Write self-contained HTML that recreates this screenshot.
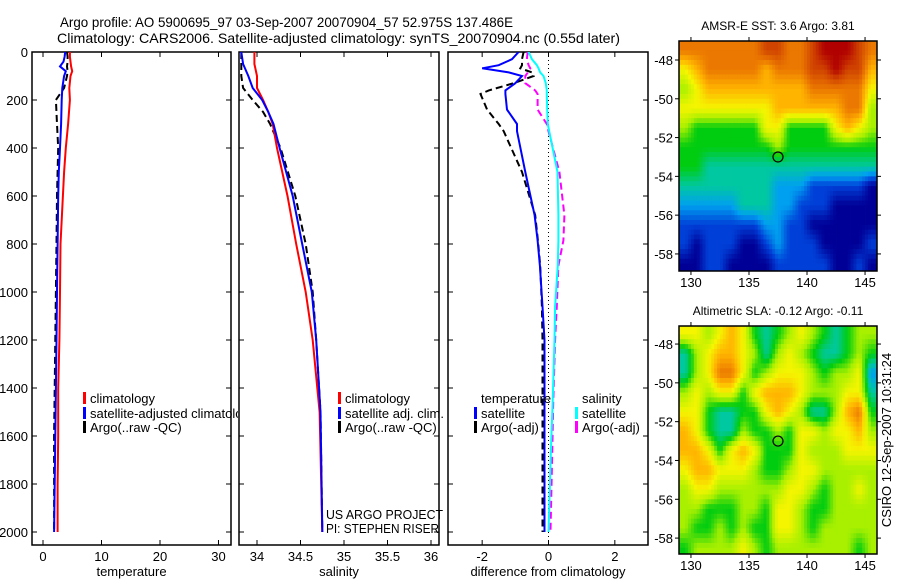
<!DOCTYPE html>
<html><head><meta charset="utf-8"><style>
html,body{margin:0;padding:0;background:#fff;}
svg{display:block;font-family:"Liberation Sans",sans-serif;}
</style></head><body>
<svg id="fig" width="900" height="580" viewBox="0 0 900 580" xmlns="http://www.w3.org/2000/svg">
<defs><clipPath id="c1"><rect x="32" y="52" width="206" height="494"/></clipPath>
<clipPath id="p1"><rect x="32" y="52" width="199" height="493"/></clipPath>
<clipPath id="p2"><rect x="239" y="52" width="200" height="493"/></clipPath>
<clipPath id="p3"><rect x="448" y="52" width="200" height="493"/></clipPath></defs>
<text x="60" y="27" font-size="14" textLength="453" lengthAdjust="spacingAndGlyphs">Argo profile: AO 5900695_97 03-Sep-2007 20070904_57 52.975S 137.486E</text>
<text x="57" y="43" font-size="14" textLength="563" lengthAdjust="spacingAndGlyphs">Climatology: CARS2006. Satellite-adjusted climatology: synTS_20070904.nc (0.55d later)</text>
<g id="g"></g>
</svg>
<script>
// ---- profile data ----
const tDepth = [0,20,40,60,80,100,150,200,300,400,500,600,800,1000,1200,1400,1600,1800,2000];
const tClim  = [4.6,4.6,4.7,4.8,5.0,4.7,4.5,4.6,4.3,3.9,3.6,3.4,3.0,2.9,2.8,2.6,2.6,2.5,2.5];
const tSat   = [3.8,3.7,3.5,2.9,3.9,3.6,3.3,3.2,3.1,2.9,2.7,2.6,2.5,2.4,2.3,2.2,2.1,2.0,1.9];
const tArgo  = [4.1,4.2,4.2,4.1,4.2,4.1,3.6,2.2,2.4,2.6,2.5,2.4,2.3,2.2,2.1,2.0,1.9,1.9,1.9];
const sDepth = [0,50,100,150,200,250,300,400,600,800,1000,1200,1500,2000];
const sClim  = [33.97,33.97,34.0,34.0,34.07,34.13,34.18,34.23,34.35,34.45,34.56,34.64,34.72,34.75];
const sSat   = [33.82,33.84,33.9,33.95,34.06,34.13,34.19,34.26,34.41,34.52,34.63,34.68,34.73,34.75];
const sArgo  = [33.82,33.82,33.82,33.84,33.95,34.07,34.15,34.27,34.44,34.56,34.64,34.68,34.73,34.75];
const dDepth = [0,30,55,68,85,100,130,160,175,240,300,330,500,680,785,890,1060,1200,1480,1620,2000];
const dTSat  = [-0.9,-1.1,-1.5,-2.0,-1.2,-0.8,-1.0,-1.3,-1.3,-1.25,-0.95,-0.95,-0.7,-0.42,-0.33,-0.26,-0.18,-0.12,-0.12,-0.12,-0.12];
const dTArgo = [-0.75,-0.8,-0.8,-0.85,-0.5,-0.45,-1.05,-1.8,-2.05,-1.85,-1.5,-1.35,-0.8,-0.4,-0.32,-0.25,-0.2,-0.18,-0.18,-0.18,-0.18];
const dSSat  = [-0.6,-0.5,-0.35,-0.3,-0.25,-0.15,-0.08,-0.05,-0.05,-0.04,-0.02,0.02,0.27,0.3,0.3,0.28,0.2,0.18,0.12,0.08,0.0];
const dSArgo = [-0.63,-0.65,-0.6,-0.55,-0.62,-0.7,-0.7,-0.4,-0.33,-0.33,-0.05,0.0,0.33,0.48,0.45,0.3,0.25,0.2,0.14,0.12,0.06];
const depthTicks = [0,200,400,600,800,1000,1200,1400,1600,1800,2000];
const tTicks = [0,10,20,30];
const sTicks = [34,34.5,35,35.5,36];
const dTicks = [-2,0,2];
// ---- map data (values 0..10 on jet scale), rows lat -47..-59, cols lon 129..146 ----
const sstGrid = [
[8,8,8,8,8,8,8,9,9,8,8,9,10,10,10,9,8],
[6,7,8,8,8,8,8,7,8,8,8,9,9,10,9,9,7],
[5,6,7,7,7,7,7,7,7,7,7,8,8,8,8,8,6],
[6,6,6,6,6,6,6,6,7,7,7,7,7,7,8,8,5],
[5,4,4,4,4,4,4,6,6,4,4,4,4,6,7,6,5],
[4,4,4,4,4,4,4,4,5,4,4,4,4,4,4,4,4],
[4,4,3,3,3,3,3,3,3,3,3,3,3,3,3,3,3],
[3,3,3,3,3,3,3,3,2,2,2,1,1,1,1,1,0],
[2,2,2,2,2,3,3,3,2,2,1,1,1,0,0,0,0],
[1,1,1,1,1,1,1,2,2,1,1,0,0,0,0,0,0],
[1,0,1,1,1,0,0,1,2,1,1,1,0,0,0,0,1],
[0,0,1,1,0,0,0,0,1,1,1,1,1,0,0,1,0]];
const slaGrid = [
[6,6,5,6,7,6,4,3,4,5,6,5,4,3,4,5,5],
[3,5,6,7,7,6,5,3,5,6,5,4,3,3,4,5,4],
[3,5,6,8,8,6,4,5,6,6,6,5,4,5,5,6,2],
[5,6,5,6,6,4,6,7,7,7,6,5,5,5,6,6,3],
[6,6,4,3,3,4,4,6,7,6,5,3,3,5,7,8,4],
[7,6,4,3,3,5,4,4,5,4,6,6,5,6,6,7,5],
[7,7,6,4,6,7,6,4,4,4,6,5,5,5,6,6,6],
[6,7,7,6,6,6,5,4,4,5,6,6,5,5,5,5,5],
[5,6,6,5,5,5,5,5,5,6,6,5,4,5,5,6,5],
[5,5,4,4,4,5,5,4,6,6,5,4,4,5,5,5,5],
[5,4,4,5,4,5,4,4,6,6,5,4,5,5,5,5,5],
[4,5,5,5,5,6,5,4,5,5,5,5,5,5,5,4,5]];
const lonTicks = [130,135,140,145];
const latTicks = [-48,-50,-52,-54,-56,-58];
const argoLon = 137.5, argoLat = -53;

const NS="http://www.w3.org/2000/svg";
const G=document.getElementById('g');
function el(tag,attrs,parent,txt){const e=document.createElementNS(NS,tag);for(const k in attrs)e.setAttribute(k,attrs[k]);if(txt!==undefined)e.textContent=txt;(parent||G).appendChild(e);return e;}
const Y=d=>52+d*0.24;
const panels=[
 {x0:32,x1:231,vmin:-1.88,vmax:32.14,ticks:tTicks,label:'temperature',clip:'p1',name:'temperature'},
 {x0:239,x1:439,vmin:33.793,vmax:36.092,ticks:sTicks,label:'salinity',clip:'p2',name:'salinity'},
 {x0:448,x1:648,vmin:-3.03,vmax:3.0,ticks:dTicks,label:'difference from climatology',clip:'p3',name:'difference'}];
panels.forEach((p,i)=>{
 p.X=v=>p.x0+(v-p.vmin)/(p.vmax-p.vmin)*(p.x1-p.x0);
 const r=el('rect',{x:p.x0,y:52,width:p.x1-p.x0,height:493,fill:'#fff',stroke:'#000','stroke-width':1.5});
 
 
 depthTicks.forEach(d=>{
  el('line',{x1:p.x0,x2:p.x0+5,y1:Y(d),y2:Y(d),stroke:'#000'});
  el('line',{x1:p.x1,x2:p.x1-5,y1:Y(d),y2:Y(d),stroke:'#000'});
  if(i===0){const t=el('text',{x:28,y:Y(d)+5,'text-anchor':'end','font-size':13},G,String(d));
   
   }
 });
 p.ticks.forEach(v=>{
  const x=p.X(v);
  el('line',{x1:x,x2:x,y1:545,y2:540,stroke:'#000'});
  el('line',{x1:x,x2:x,y1:52,y2:57,stroke:'#000'});
  const t=el('text',{x:x,y:561,'text-anchor':'middle','font-size':13},G,String(v));
  
  
 });
 const lb=el('text',{x:(p.x0+p.x1)/2,y:576,'text-anchor':'middle','font-size':13},G,p.label);
 
 
});
function line(p,depths,vals,color,dash,name){
 const pts=vals.map((v,k)=>p.X(v).toFixed(1)+','+Y(depths[k]).toFixed(1)).join(' ');
 const a={points:pts,fill:'none',stroke:color,'stroke-width':2,'clip-path':'url(#'+p.clip+')'};
 if(dash)a['stroke-dasharray']='7,4';
 const e=el('polyline',a);
 
 
}
el('line',{x1:panels[2].X(0),x2:panels[2].X(0),y1:52,y2:545,stroke:'#000','stroke-dasharray':'1,3'});
line(panels[0],tDepth,tArgo,'#000',true,'temp-argo-line');
line(panels[0],tDepth,tClim,'#f00',false,'temp-climatology-line');
line(panels[0],tDepth,tSat,'#00f',false,'temp-satellite-line');
line(panels[1],sDepth,sArgo,'#000',true,'sal-argo-line');
line(panels[1],sDepth,sClim,'#f00',false,'sal-climatology-line');
line(panels[1],sDepth,sSat,'#00f',false,'sal-satellite-line');
line(panels[2],dDepth,dTArgo,'#000',true,'diff-temp-argo-line');
line(panels[2],dDepth,dTSat,'#00f',false,'diff-temp-satellite-line');
line(panels[2],dDepth,dSArgo,'#f0f',true,'diff-sal-argo-line');
line(panels[2],dDepth,dSSat,'#0ff',false,'diff-sal-satellite-line');
function leg(x,y,color,txt,clip){
 if(color)el('rect',{x:x-7,y:y-10,width:3,height:12,fill:color});
 const a={x:x,y:y+1,'font-size':13};if(clip)a['clip-path']='url(#'+clip+')';
 const t=el('text',a,G,txt);
 
 
}
leg(90,402,'#f00','climatology');leg(90,417,'#00f','satellite-adjusted climatology','c1');leg(90,431,'#000','Argo(..raw -QC)');
leg(345,402,'#f00','climatology');leg(345,417,'#00f','satellite adj. clim.');leg(345,431,'#000','Argo(..raw -QC)');
leg(481,402,null,'temperature');leg(481,417,'#00f','satellite');leg(481,431,'#000','Argo(-adj)');
leg(582,402,null,'salinity');leg(582,417,'#0ff','satellite');leg(582,431,'#f0f','Argo(-adj)');
const u1=el('text',{x:326,y:519,'font-size':13,textLength:117,lengthAdjust:'spacingAndGlyphs'},G,'US ARGO PROJECT');


const u2=el('text',{x:326,y:533,'font-size':13,textLength:113,lengthAdjust:'spacingAndGlyphs'},G,'PI: STEPHEN RISER');


// continuous jet-like colour scale, index 0..10
const stops=[[0,0,0,150],[1,0,64,216],[2,0,160,240],[3,0,200,160],[4,0,204,16],[5,168,240,0],[6,245,245,0],[7,255,180,0],[8,235,120,0],[9,208,68,0],[10,176,0,0]];
function col(v){v=Math.max(0,Math.min(10,v));const i=Math.min(9,Math.floor(v)),f=v-i,a=stops[i],b=stops[i+1];
 return 'rgb('+[1,2,3].map(k=>Math.round(a[k]+(b[k]-a[k])*f)).join(',')+')';}
function sample(grid,r,c){
 const R=grid.length,C=grid[0].length;
 r=Math.max(0,Math.min(R-1,r));c=Math.max(0,Math.min(C-1,c));
 const r0=Math.floor(r),c0=Math.floor(c),r1=Math.min(R-1,r0+1),c1=Math.min(C-1,c0+1),fr=r-r0,fc=c-c0;
 return grid[r0][c0]*(1-fr)*(1-fc)+grid[r0][c1]*(1-fr)*fc+grid[r1][c0]*fr*(1-fc)+grid[r1][c1]*fr*fc;}
function map(grid,top,bottom,latTop,latBot,title,name){
 const mx0=679,mx1=877,lonMin=128.97,lonMax=146.03;
 const MX=l=>mx0+(l-lonMin)/(lonMax-lonMin)*(mx1-mx0);
 const MY=l=>top+(latTop-l)/(latTop-latBot)*(bottom-top);
 const cid='clip'+name;
 const cp=el('clipPath',{id:cid});el('rect',{x:mx0,y:top,width:mx1-mx0,height:bottom-top},cp);
 const g=el('g',{'clip-path':'url(#'+cid+')'});
 const S=4;
 for(let r=0;r<grid.length*S;r++)for(let c=0;c<grid[0].length*S;c++){
  const lon=129+c/S,lat=-47-r/S;
  const v=sample(grid,(r+0.5)/S-0.5,(c+0.5)/S-0.5);
  const x=MX(lon),y=MY(lat);
  const cell=el('rect',{x:x.toFixed(2),y:y.toFixed(2),width:(MX(lon+1/S)-x+0.4).toFixed(2),height:(MY(lat-1/S)-y+0.4).toFixed(2),fill:col(v)},g);
  
  
 }
 const f=el('rect',{x:mx0,y:top,width:mx1-mx0,height:bottom-top,fill:'none',stroke:'#000','stroke-width':1.5});
 
 
 lonTicks.forEach(l=>{const x=MX(l);el('line',{x1:x,x2:x,y1:top,y2:top-4,stroke:'#000'});el('line',{x1:x,x2:x,y1:bottom,y2:bottom+4,stroke:'#000'});
  const t=el('text',{x:x,y:bottom+16,'text-anchor':'middle','font-size':13},G,String(l));
  
  });
 latTicks.forEach(l=>{const y=MY(l);el('line',{x1:mx0,x2:mx0-4,y1:y,y2:y,stroke:'#000'});el('line',{x1:mx1,x2:mx1+4,y1:y,y2:y,stroke:'#000'});
  const t=el('text',{x:673,y:y+5,'text-anchor':'end','font-size':13},G,String(l));
  
  });
 const c=el('circle',{cx:MX(argoLon),cy:MY(argoLat),r:5,fill:'none',stroke:'#000','stroke-width':1.2});
 
 
 const t=el('text',{x:778,y:top-11,'text-anchor':'middle','font-size':12},G,title);
 
 
}
map(sstGrid,41,271,-47.02,-58.88,'AMSR-E SST: 3.6 Argo: 3.81','sst');
map(slaGrid,326,554,-47.07,-58.82,'Altimetric SLA: -0.12 Argo: -0.11','sla');
const cs=el('text',{x:0,y:0,'text-anchor':'middle','font-size':13,transform:'translate(891,440) rotate(-90)'},G,'CSIRO 12-Sep-2007 10:31:24');


</script>
</body></html>
